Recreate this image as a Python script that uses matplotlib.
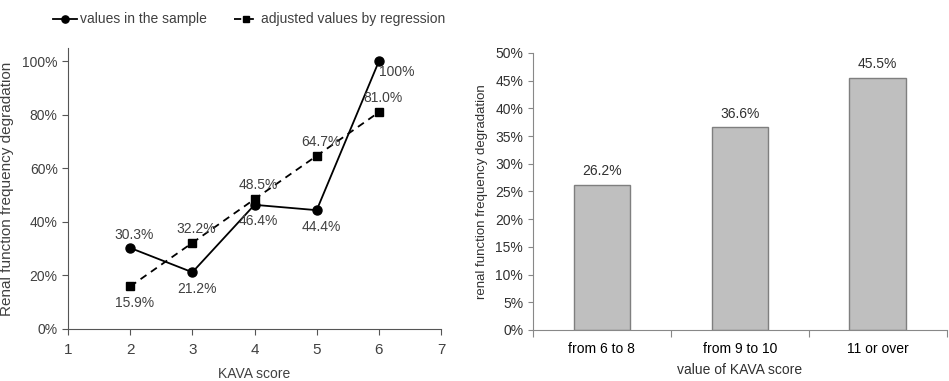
import matplotlib
matplotlib.use("Agg")
import matplotlib.pyplot as plt
from matplotlib.ticker import PercentFormatter

# left chart data
kava = [2, 3, 4, 5, 6]
sample = [30.3, 21.2, 46.4, 44.4, 100]
sample_lbl = ["30.3%", "21.2%", "46.4%", "44.4%", "100%"]
regression = [15.9, 32.2, 48.5, 64.7, 81.0]
regression_lbl = ["15.9%", "32.2%", "48.5%", "64.7%", "81.0%"]

# right chart data
groups = ["from 6 to 8", "from 9 to 10", "11 or over"]
freq = [26.2, 36.6, 45.5]

txt = "#404040"
plt.rcParams["font.family"] = ["Liberation Sans", "DejaVu Sans"]

fig = plt.figure(figsize=(9.49, 3.81), dpi=100)

# ---- left: line chart
ax1 = fig.add_axes([0.0717, 0.1365, 0.393, 0.7375])
ax1.plot(kava, sample, color="black", lw=1.3, marker="o", ms=6.5, label="values in the sample")
ax1.plot(kava, regression, color="black", lw=1.3, ls=(0, (4, 3)), marker="s", ms=6,
         label="adjusted values by regression")
ax1.set_xlim(1, 7)
ax1.set_ylim(0, 105)
ax1.set_yticks([0, 20, 40, 60, 80, 100])
ax1.yaxis.set_major_formatter(PercentFormatter(decimals=0))
ax1.set_xticks(range(1, 8))
for s in ["top", "right"]:
    ax1.spines[s].set_visible(False)
for s in ["left", "bottom"]:
    ax1.spines[s].set_color("#555555")
ax1.tick_params(colors="#555555", labelcolor=txt, labelsize=10, length=4)
ax1.tick_params(axis="x", labelsize=11, pad=6)
ax1.set_xlabel("KAVA score", fontsize=10, color=txt, labelpad=7)
ax1.set_ylabel("Renal function frequency degradation", fontsize=11, color=txt, labelpad=6)

# sample labels: above for first, below for the rest
s_off = [(3, 9), (3, -12), (3, -12), (3, -12), (13, -8)]
for x, y, lab, (dx, dy) in zip(kava, sample, sample_lbl, s_off):
    ax1.annotate(lab, (x, y), xytext=(dx, dy), textcoords="offset points",
                 ha="center", va="center", fontsize=10, color=txt)
r_off = [(3, -12), (3, 10), (3, 10), (3, 10), (3, 10)]
for x, y, lab, (dx, dy) in zip(kava, regression, regression_lbl, r_off):
    ax1.annotate(lab, (x, y), xytext=(dx, dy), textcoords="offset points",
                 ha="center", va="center", fontsize=10, color=txt)

fig.legend(loc="upper left", bbox_to_anchor=(0.043, 1.0), ncol=2, frameon=False,
           fontsize=10, handlelength=1.7, handletextpad=0.2, columnspacing=2.0,
           labelcolor=txt, markerscale=0.8)

# ---- right: bar chart
ax2 = fig.add_axes([0.5616, 0.134, 0.436, 0.727])
pos = range(len(groups))
bars = ax2.bar(pos, freq, width=0.41, color="#bfbfbf", edgecolor="#7f7f7f", lw=1)
for b, v in zip(bars, freq):
    ax2.text(b.get_x() + b.get_width() / 2, v + 1.2, f"{v:.1f}%", ha="center", va="bottom",
             fontsize=10, color="#303030")
ax2.set_xlim(-0.5, 2.5)
ax2.set_ylim(0, 50)
ax2.set_yticks(range(0, 51, 5))
ax2.yaxis.set_major_formatter(PercentFormatter(decimals=0))
ax2.set_xticks([-0.5, 0.5, 1.5, 2.5], minor=False)
ax2.set_xticklabels([])
ax2.set_xticks(list(pos), minor=True)
ax2.set_xticklabels(groups, minor=True)
ax2.tick_params(axis="x", which="minor", length=0, pad=9)
ax2.tick_params(axis="x", which="major", length=5, direction="out")
for s in ["top", "right"]:
    ax2.spines[s].set_visible(False)
for s in ["left", "bottom"]:
    ax2.spines[s].set_color("#888888")
ax2.tick_params(colors="#888888", labelcolor="#303030")
for lab in ax2.get_xticklabels(minor=True) + ax2.get_yticklabels():
    lab.set_fontsize(10)
ax2.set_xlabel("value of KAVA score", fontsize=10, color="#303030", labelpad=5)
ax2.set_ylabel("renal function frequency degradation", fontsize=9.5, color="#303030",
               labelpad=5)

fig.savefig("out.png", dpi=100)
